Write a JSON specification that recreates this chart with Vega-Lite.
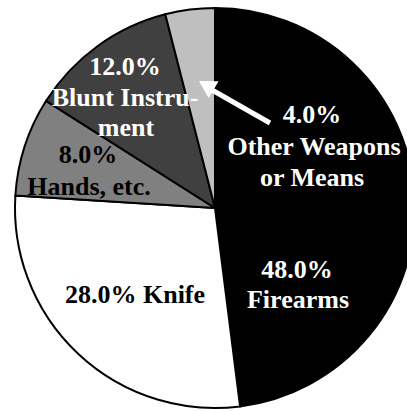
{
  "$schema": "https://vega.github.io/schema/vega-lite/v6.json",
  "width": 430,
  "height": 416,
  "autosize": {"type": "none"},
  "padding": 0,
  "background": "white",
  "config": {"view": {"stroke": null}},
  "datasets": {
    "slices": [
      {"slice": "Firearms", "value": 48, "order": 1},
      {"slice": "Knife", "value": 28, "order": 2},
      {"slice": "Hands, etc.", "value": 8, "order": 3},
      {"slice": "Blunt Instrument", "value": 12, "order": 4},
      {"slice": "Other Weapons or Means", "value": 4, "order": 5}
    ],
    "labels": [
      {"text": "48.0%", "slice": "Firearms", "x": 297, "y": 278},
      {"text": "Firearms", "slice": "Firearms", "x": 298, "y": 308},
      {"text": "28.0% Knife", "slice": "Knife", "x": 135, "y": 303},
      {"text": "8.0%", "slice": "Hands, etc.", "x": 88, "y": 163},
      {"text": "Hands, etc.", "slice": "Hands, etc.", "x": 89, "y": 195},
      {"text": "12.0%", "slice": "Blunt Instrument", "x": 125, "y": 75},
      {"text": "Blunt Instru-", "slice": "Blunt Instrument", "x": 125, "y": 106},
      {"text": "ment", "slice": "Blunt Instrument", "x": 126, "y": 136},
      {"text": "4.0%", "slice": "Other Weapons or Means", "x": 312, "y": 123},
      {"text": "Other Weapons", "slice": "Other Weapons or Means", "x": 314, "y": 155},
      {"text": "or Means", "slice": "Other Weapons or Means", "x": 312, "y": 186}
    ],
    "arrow": [{"x": 270, "y": 123, "x2": 212, "y2": 90}],
    "head": [{"x": 206.3, "y": 85.3}]
  },
  "layer": [
    {
      "data": {"name": "slices"},
      "mark": {"type": "arc", "outerRadius": 200, "stroke": "#000000", "strokeWidth": 2},
      "encoding": {
        "theta": {"field": "value", "type": "quantitative", "stack": true},
        "order": {"field": "order", "type": "quantitative", "sort": "ascending"},
        "color": {
          "field": "slice",
          "type": "nominal",
          "scale": {
            "domain": ["Firearms", "Knife", "Hands, etc.", "Blunt Instrument", "Other Weapons or Means"],
            "range": ["#000000", "#ffffff", "#808080", "#404040", "#bfbfbf"]
          },
          "legend": null
        }
      }
    },
    {
      "data": {"name": "labels"},
      "transform": [{"filter": "datum.slice === 'Knife' || datum.slice === 'Hands, etc.'"}],
      "mark": {"type": "text", "font": "Liberation Serif", "fontWeight": "bold", "fontSize": 26, "align": "center", "baseline": "alphabetic", "color": "#000000"},
      "encoding": {
        "x": {"field": "x", "type": "quantitative", "scale": {"domain": [0, 430], "nice": false, "zero": false}, "axis": null},
        "y": {"field": "y", "type": "quantitative", "scale": {"domain": [0, 416], "nice": false, "reverse": true}, "axis": null},
        "text": {"field": "text", "type": "nominal"}
      }
    },
    {
      "data": {"name": "labels"},
      "transform": [{"filter": "datum.slice !== 'Knife' && datum.slice !== 'Hands, etc.'"}],
      "mark": {"type": "text", "font": "Liberation Serif", "fontWeight": "bold", "fontSize": 26, "align": "center", "baseline": "alphabetic", "color": "#ffffff"},
      "encoding": {
        "x": {"field": "x", "type": "quantitative", "scale": {"domain": [0, 430], "nice": false, "zero": false}, "axis": null},
        "y": {"field": "y", "type": "quantitative", "scale": {"domain": [0, 416], "nice": false, "reverse": true}, "axis": null},
        "text": {"field": "text", "type": "nominal"}
      }
    },
    {
      "data": {"name": "arrow"},
      "mark": {"type": "rule", "color": "#ffffff", "strokeWidth": 5},
      "encoding": {
        "x": {"field": "x", "type": "quantitative", "scale": {"domain": [0, 430], "nice": false, "zero": false}, "axis": null},
        "y": {"field": "y", "type": "quantitative", "scale": {"domain": [0, 416], "nice": false, "reverse": true}, "axis": null},
        "x2": {"field": "x2"},
        "y2": {"field": "y2"}
      }
    },
    {
      "data": {"name": "head"},
      "mark": {"type": "point", "shape": "triangle-up", "filled": true, "color": "#ffffff", "opacity": 1, "size": 384, "angle": 300.6},
      "encoding": {
        "x": {"field": "x", "type": "quantitative", "scale": {"domain": [0, 430], "nice": false, "zero": false}, "axis": null},
        "y": {"field": "y", "type": "quantitative", "scale": {"domain": [0, 416], "nice": false, "reverse": true}, "axis": null}
      }
    }
  ]
}
